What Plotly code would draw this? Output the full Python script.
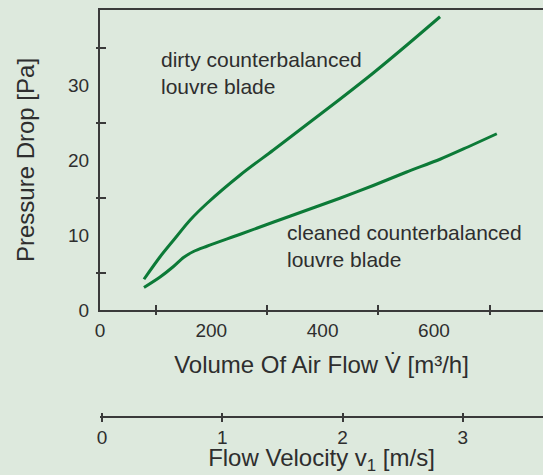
import plotly.graph_objects as go

# Data
dirty_flow = [79, 108, 132, 162, 192, 252, 311, 371, 431, 491, 551, 611]
dirty_dp = [4.1, 7.1, 9.3, 12.0, 14.2, 18.0, 21.3, 24.7, 28.1, 31.6, 35.3, 39.1]

clean_flow = [79, 108, 132, 150, 168, 192, 252, 311, 371, 431, 491, 551, 611, 660, 713]
clean_dp = [3.0, 4.4, 5.8, 7.0, 7.8, 8.5, 10.1, 11.7, 13.3, 14.9, 16.6, 18.4, 20.1, 21.7, 23.5]

flow_label_vals = [0, 200, 400, 600]
flow_tick_vals = [100, 300, 500, 700]
dp_label_vals = [0, 10, 20, 30]
dp_tick_vals = [5, 15, 25, 35]
vel_vals = [0, 1, 2, 3]

FLOW_RANGE = [0, 796]
DP_RANGE = [0, 40]
VEL_RANGE = [-0.0166, 3.666]

BG = "#dde9dd"
GREEN = "#0c7a37"
AX = "#3a3a3a"
TXT = "#2e2e2e"
FONT = "Liberation Sans, Arial, sans-serif"

fig = go.Figure()
line = dict(color=GREEN, width=3, shape="spline", smoothing=0.8)
fig.add_trace(go.Scatter(x=dirty_flow, y=dirty_dp, mode="lines", line=line,
                         showlegend=False, hoverinfo="skip"))
fig.add_trace(go.Scatter(x=clean_flow, y=clean_dp, mode="lines", line=line,
                         showlegend=False, hoverinfo="skip"))
# empty traces to activate helper axes
fig.add_trace(go.Scatter(x=[], y=[], xaxis="x2", yaxis="y", showlegend=False))
fig.add_trace(go.Scatter(x=[], y=[], xaxis="x3", yaxis="y2", showlegend=False))
fig.add_trace(go.Scatter(x=[], y=[], xaxis="x4", yaxis="y", showlegend=False))

H = 475
plot_h = H - 10
ydom_bottom = (H - 310) / plot_h
vel_pos = (H - 416.5) / plot_h

tickfont = dict(family=FONT, size=19, color=TXT)
titlefont = dict(family=FONT, size=24, color=TXT)

fig.update_layout(
    width=543, height=475,
    margin=dict(l=100, r=0, t=10, b=0, autoexpand=False),
    paper_bgcolor=BG, plot_bgcolor=BG,
    font=dict(family=FONT, color=TXT),
    xaxis=dict(
        range=FLOW_RANGE, domain=[0, 1], anchor="y", automargin=False,
        showline=True, linecolor=AX, linewidth=2, mirror=True,
        showgrid=False, zeroline=False,
        tickmode="array", tickvals=flow_label_vals,
        ticktext=[str(v) for v in flow_label_vals],
        ticks="", ticklabelstandoff=2, tickfont=tickfont,
        minor=dict(tickmode="array", tickvals=flow_tick_vals, ticks="inside",
                   ticklen=5, tickwidth=1.5, tickcolor=AX, showgrid=False),
        title=dict(text="Volume Of Air Flow V\u0307 [m³/h]", font=titlefont, standoff=16),
    ),
    xaxis3=dict(
        range=FLOW_RANGE, domain=[0, 1], anchor="y2", overlaying="x", automargin=False,
        showline=False, showgrid=False, zeroline=False,
        tickmode="array", tickvals=flow_tick_vals, ticks="outside",
        ticklen=4, tickwidth=1.5, tickcolor=AX, showticklabels=False,
    ),
    yaxis=dict(
        range=DP_RANGE, domain=[ydom_bottom, 1], anchor="x", automargin=False,
        showline=True, linecolor=AX, linewidth=2,
        showgrid=False, zeroline=False,
        tickmode="array", tickvals=dp_label_vals,
        ticktext=[str(v) for v in dp_label_vals],
        ticks="", ticklabelstandoff=5, tickfont=tickfont,
        minor=dict(tickmode="array", tickvals=dp_tick_vals, ticks="inside",
                   ticklen=6, tickwidth=1.5, tickcolor=AX, showgrid=False),
        title=dict(text="Pressure Drop [Pa]", font=titlefont, standoff=27),
    ),
    yaxis2=dict(
        range=DP_RANGE, domain=[ydom_bottom, 1], anchor="x3", overlaying="y", automargin=False,
        showline=False, showgrid=False, zeroline=False,
        tickmode="array", tickvals=dp_tick_vals, ticks="outside",
        ticklen=3, tickwidth=1.5, tickcolor=AX, showticklabels=False,
    ),
    xaxis2=dict(
        range=VEL_RANGE, domain=[0, 1], anchor="free", position=vel_pos,
        overlaying="x", side="bottom", automargin=False,
        showline=True, linecolor=AX, linewidth=2,
        showgrid=False, zeroline=False,
        tickmode="array", tickvals=vel_vals, ticktext=[str(v) for v in vel_vals],
        ticks="outside", ticklen=4, tickwidth=1.5, tickcolor=AX,
        tickfont=tickfont,
        title=dict(text="Flow Velocity v<sub>1</sub> [m/s]", font=titlefont, standoff=11),
    ),
    xaxis4=dict(
        range=VEL_RANGE, domain=[0, 1], anchor="free", position=vel_pos,
        overlaying="x", side="bottom", automargin=False,
        showline=False, showgrid=False, zeroline=False,
        tickmode="array", tickvals=vel_vals, ticks="inside",
        ticklen=4, tickwidth=1.5, tickcolor=AX, showticklabels=False,
    ),
    annotations=[
        dict(x=106, y=31.6, xref="x", yref="y", xanchor="left", yanchor="middle",
             align="left", showarrow=False,
             text="dirty counterbalanced<br>louvre blade",
             font=dict(family=FONT, size=21, color=TXT)),
        dict(x=332, y=8.6, xref="x", yref="y", xanchor="left", yanchor="middle",
             align="left", showarrow=False,
             text="cleaned counterbalanced<br>louvre blade",
             font=dict(family=FONT, size=21, color=TXT)),
    ],
)

fig.write_html(
    "out.html",
    config={"displayModeBar": False},
    post_script="document.body.style.margin='0';document.body.style.background='%s';" % BG,
)
